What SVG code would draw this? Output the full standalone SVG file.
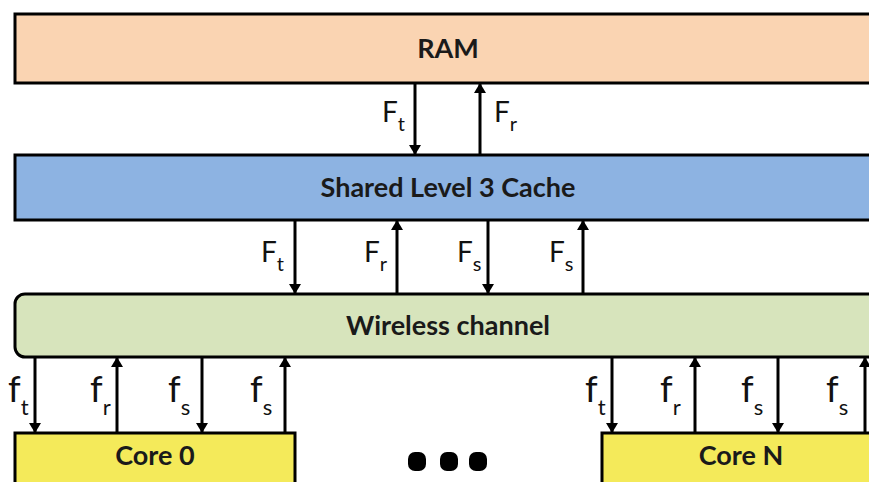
<svg xmlns="http://www.w3.org/2000/svg" width="869" height="482" viewBox="0 0 869 482">
<defs>
<marker id="ah" viewBox="0 0 10 12" refX="10" refY="6" markerWidth="10" markerHeight="12" markerUnits="userSpaceOnUse" orient="auto">
<path d="M0,0 L10,6 L0,12 Z" fill="#000"/>
</marker>
<style>
.box{stroke:#000;stroke-width:3}
.title{font-family:Lato,"Open Sans",sans-serif;font-weight:bold;font-size:27px;fill:#1a1a1a;text-anchor:middle}
.arr{stroke:#000;stroke-width:3;fill:none;marker-end:url(#ah)}
.lbl{font-family:Lato,"Open Sans",sans-serif;font-size:28px;fill:#111}
.lf{font-family:Lato,"Open Sans",sans-serif;font-size:36px;fill:#111}
.sub{font-size:20px}
.subf{font-size:22px}
</style>
</defs>
<rect width="869" height="482" fill="#fff"/>
<g id="ram"><rect class="box" x="15" y="14" width="870" height="69" fill="#FAD4B2"/><text class="title" x="448" y="58">RAM</text></g>
<g id="cache"><rect class="box" x="15" y="155" width="870" height="65" fill="#8DB3E2"/><text class="title" x="448" y="197">Shared Level 3 Cache</text></g>
<g id="wireless"><rect class="box" x="15" y="294" width="880" height="63" rx="10" fill="#D7E4BC"/><text class="title" x="448" y="335">Wireless channel</text></g>
<g id="core0"><rect class="box" x="15" y="433" width="280" height="60" fill="#F4EA5A"/><text class="title" x="155" y="465">Core 0</text></g>
<g id="coreN"><rect class="box" x="602" y="433" width="280" height="60" fill="#F4EA5A"/><text class="title" x="741" y="465">Core N</text></g>
<g id="ellipsis" fill="#000"><rect x="408" y="452" width="18" height="19" rx="7"/><rect x="440" y="452" width="18" height="19" rx="7"/><rect x="469" y="452" width="18" height="19" rx="7"/></g>
<g id="connectors">
<line class="arr" x1="415" y1="83" x2="415" y2="155"/>
<line class="arr" x1="480" y1="155" x2="480" y2="83"/>
<line class="arr" x1="295" y1="220" x2="295" y2="294"/>
<line class="arr" x1="397" y1="294" x2="397" y2="220"/>
<line class="arr" x1="488" y1="220" x2="488" y2="294"/>
<line class="arr" x1="583" y1="294" x2="583" y2="220"/>
<line class="arr" x1="35" y1="357" x2="35" y2="433"/>
<line class="arr" x1="117" y1="433" x2="117" y2="357"/>
<line class="arr" x1="202" y1="357" x2="202" y2="433"/>
<line class="arr" x1="285" y1="433" x2="285" y2="357"/>
<line class="arr" x1="612" y1="357" x2="612" y2="433"/>
<line class="arr" x1="695" y1="433" x2="695" y2="357"/>
<line class="arr" x1="778" y1="357" x2="778" y2="433"/>
<line class="arr" x1="865" y1="433" x2="865" y2="357"/>
</g>
<g id="labels">
<text class="lbl" x="382" y="122">F<tspan class="sub" dy="9">t</tspan></text>
<text class="lbl" x="494" y="122">F<tspan class="sub" dy="9">r</tspan></text>
<text class="lbl" x="261" y="262">F<tspan class="sub" dy="9">t</tspan></text>
<text class="lbl" x="364" y="262">F<tspan class="sub" dy="9">r</tspan></text>
<text class="lbl" x="457" y="262">F<tspan class="sub" dy="9">s</tspan></text>
<text class="lbl" x="549" y="262">F<tspan class="sub" dy="9">s</tspan></text>
<text class="lf" x="8" y="402">f<tspan class="subf" dy="13">t</tspan></text>
<text class="lf" x="90" y="402">f<tspan class="subf" dy="13">r</tspan></text>
<text class="lf" x="168" y="402">f<tspan class="subf" dy="13">s</tspan></text>
<text class="lf" x="250" y="402">f<tspan class="subf" dy="13">s</tspan></text>
<text class="lf" x="585" y="402">f<tspan class="subf" dy="13">t</tspan></text>
<text class="lf" x="660" y="402">f<tspan class="subf" dy="13">r</tspan></text>
<text class="lf" x="741" y="402">f<tspan class="subf" dy="13">s</tspan></text>
<text class="lf" x="826" y="402">f<tspan class="subf" dy="13">s</tspan></text>
</g>
</svg>
